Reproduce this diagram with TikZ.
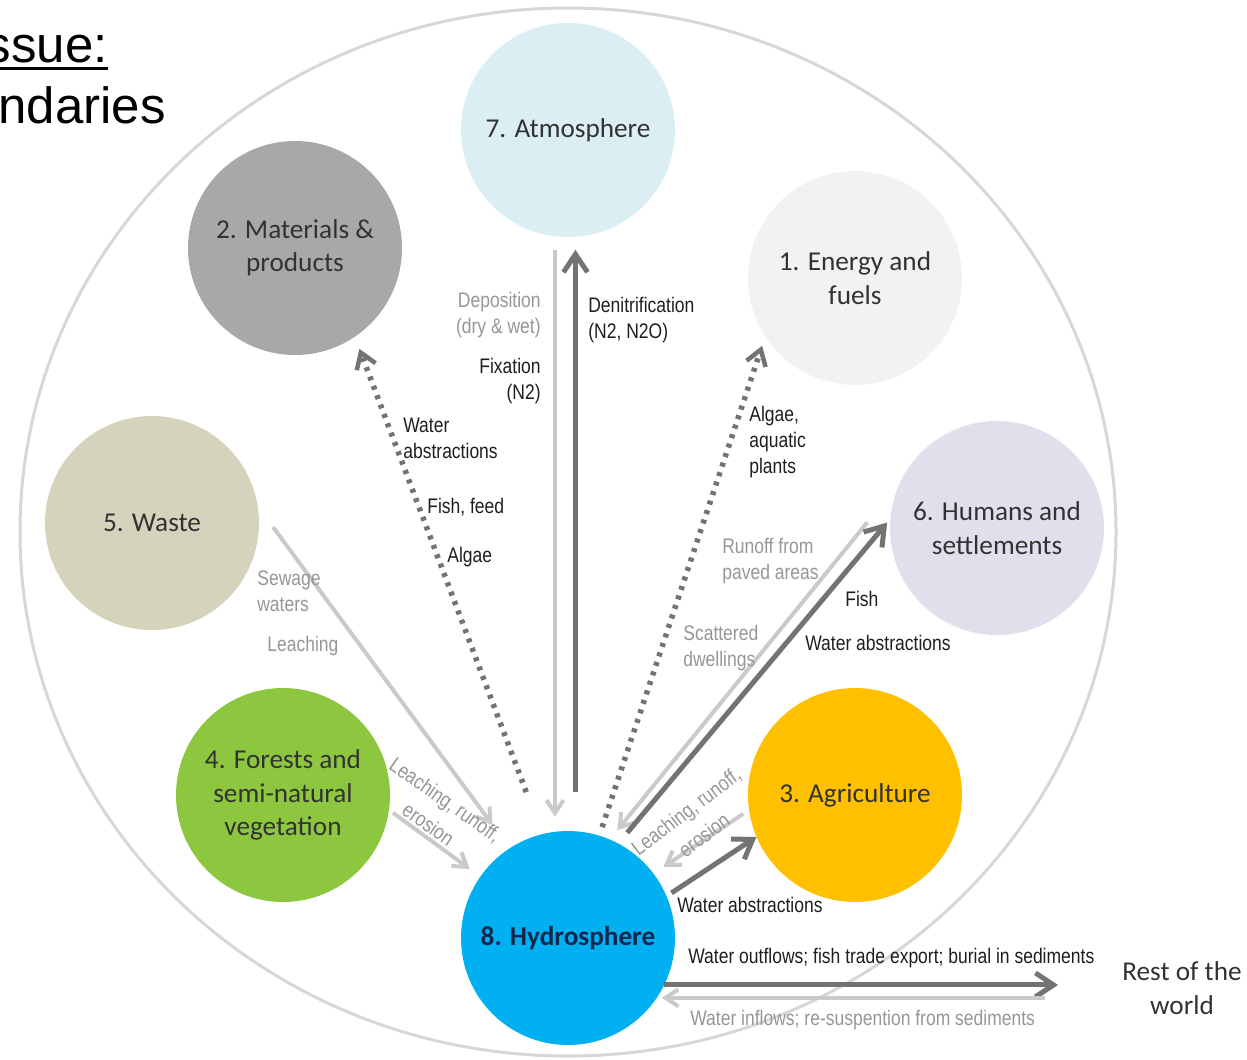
\documentclass[tikz,border=0pt]{standalone}
\usepackage{fontspec}
\setmainfont{Carlito}
\newfontfamily\titlefont{Liberation Sans}
\newfontfamily\labelfont[FakeStretch=0.83]{Liberation Sans}
\usetikzlibrary{arrows.meta}
\definecolor{atmofill}{RGB}{219,238,244}
\definecolor{matfill}{RGB}{168,168,168}
\definecolor{enefill}{RGB}{242,242,242}
\definecolor{wastefill}{RGB}{214,211,189}
\definecolor{humfill}{RGB}{226,223,236}
\definecolor{forfill}{RGB}{141,198,63}
\definecolor{agrfill}{RGB}{255,192,0}
\definecolor{hydfill}{RGB}{0,176,240}
\definecolor{hydtext}{RGB}{18,38,78}
\definecolor{sectortext}{RGB}{50,50,50}
\definecolor{flowdark}{RGB}{115,115,115}
\definecolor{flowlight}{RGB}{202,202,202}
\definecolor{labeldark}{RGB}{30,30,30}
\definecolor{labellight}{RGB}{150,150,150}
\definecolor{rim}{RGB}{215,215,215}
\tikzset{%
  sector/.style={circle, minimum size=42.8mm, inner sep=0pt, outer sep=0pt,
    align=center, text=sectortext, font=\fontsize{15.5}{19}\selectfont},% one of the eight sectors
  flowlabel/.style={inner sep=0pt, font=\labelfont\fontsize{12}{14.7}\selectfont},% text beside a flow
  darktext/.style={flowlabel, text=labeldark},
  lighttext/.style={flowlabel, text=labellight},
  darkflow/.style={draw=flowdark, line width=1mm,
    -{Straight Barb[length=3.6mm, width=4.8mm]}},% flow out of the hydrosphere
  lightflow/.style={draw=flowlight, line width=0.8mm,
    -{Straight Barb[length=2.6mm, width=3.4mm]}},% flow into the hydrosphere
  dotflow/.style={draw=flowdark, line width=1.1mm,
    dash pattern=on 0.8mm off 1.2mm, -{Straight Barb[length=3mm, width=4mm, line width=0.9mm]}}% uncertain flow
}

\begin{document}
\begin{tikzpicture}[x=0.2mm, y=-0.2mm]
\useasboundingbox (0,0) rectangle (1247,1059);

% outer boundary
\draw[rim, line width=0.6mm] (568,532) ellipse [x radius=548, y radius=524];

% title, cut at the left edge
\node[font=\titlefont\fontsize{29}{34}\selectfont, inner sep=0pt, anchor=base east] (issue) at (108,62) {ssue:};
\draw[line width=0.6mm] ([yshift=-1.3mm]issue.base west) -- ([yshift=-1.3mm]issue.base east);
\node[font=\titlefont\fontsize{29}{34}\selectfont, inner sep=0pt, anchor=base east] (bound) at (166,123) {ndaries};

% sectors
\node[sector, fill=atmofill] (atm) at (568,130) {7. Atmosphere};
\node[sector, fill=matfill] (mat) at (295,248) {2. Materials \&\\products};
\node[sector, fill=enefill] (ene) at (855,278) {1. Energy and\\fuels};
\node[sector, fill=wastefill] (waste) at (152,523) {5. Waste};
\node[sector, fill=humfill] (hum) at (997,528) {6. Humans and\\settlements};
\node[sector, fill=forfill] (forest) at (283,795) {4. Forests and\\semi-natural\\vegetation};
\node[sector, fill=agrfill] (agr) at (855,795) {3. Agriculture};
\node[sector, fill=hydfill, text=hydtext, font=\fontsize{15.5}{19}\selectfont\bfseries] (hyd) at (568,938) {8. Hydrosphere};
\node[align=center, inner sep=0pt, text=sectortext, font=\fontsize{15.5}{19}\selectfont] (rest) at (1182,988) {Rest of the\\world};

% flows
\draw[lightflow, shorten <=2.8mm, shorten >=3mm] (atm.-97) -- (hyd.97);
\draw[darkflow, shorten <=7.8mm, shorten >=2.6mm] (hyd.86) -- (atm.-86);
\draw[dotflow, shorten <=9mm, shorten >=2.6mm] (hyd.104) -- (mat.-56);
\draw[dotflow, shorten <=1.8mm, shorten >=2mm] (hyd.73) -- (ene.-147);
\draw[lightflow, shorten >=5.8mm] ([shift={(14,4)}]waste.east) -- (hyd.123);
\draw[lightflow, shorten <=1mm, shorten >=2.6mm] (forest.-8) -- (hyd.145);
\draw[lightflow, shorten <=10.6mm, shorten >=2.4mm] (hum.154) -- (hyd.67);
\draw[darkflow, shorten <=2.8mm, shorten >=1mm] (hyd.62) -- (hum.175);
\draw[lightflow, shorten <=1.4mm, shorten >=2.4mm] (agr.188) -- (hyd.37);
\draw[darkflow, shorten <=1.2mm] (hyd.23) -- (agr.203);
\draw[darkflow, shorten >=12.8mm] (hyd.-26) -- (hyd.-26 -| rest.west);
\draw[lightflow, shorten <=15.4mm, shorten >=1mm] (hyd.-34 -| rest.west) -- (hyd.-34);

% flow labels
\node[lighttext, align=right, anchor=east] (depo) at (541,315) {Deposition\\(dry \& wet)};
\node[darktext, align=right, anchor=east] (fixa) at (541,381) {Fixation\\(N2)};
\node[darktext, align=left, anchor=west] (deni) at (588,320) {Denitrification\\(N2, N2O)};
\node[darktext, align=left, anchor=west] (wabs1) at (403,438) {Water\\abstractions};
\node[darktext, anchor=west] (fish1) at (427,507) {Fish, feed};
\node[darktext, anchor=west] (alg1) at (447,557) {Algae};
\node[darktext, align=left, anchor=west] (alg2) at (749,442) {Algae,\\aquatic\\plants};
\node[lighttext, align=left, anchor=west] (runoff) at (722,561) {Runoff from\\paved areas};
\node[darktext, anchor=west] (fish2) at (845,599) {Fish};
\node[lighttext, align=left, anchor=west] (scat) at (683,648) {Scattered\\dwellings};
\node[darktext, anchor=west] (wabs2) at (805,643) {Water abstractions};
\node[lighttext, align=left, anchor=west] (sewa) at (257,591) {Sewage\\waters};
\node[lighttext, anchor=west] (leach) at (267,646) {Leaching};
\node[lighttext, align=center, rotate=-35, font=\labelfont\fontsize{12}{17}\selectfont] (leachf) at (437,812) {Leaching, runoff,\\erosion};
\node[lighttext, align=center, rotate=37, font=\labelfont\fontsize{12}{17}\selectfont] (leacha) at (695,823) {Leaching, runoff,\\erosion};
\node[darktext, anchor=west] (wabs3) at (677,905) {Water abstractions};
\node[darktext, anchor=west] (outf) at (688,958) {Water outflows; fish trade export; burial in sediments};
\node[lighttext, anchor=west] (inf) at (690,1020) {Water inflows; re-suspention from sediments};
\end{tikzpicture}
\end{document}
